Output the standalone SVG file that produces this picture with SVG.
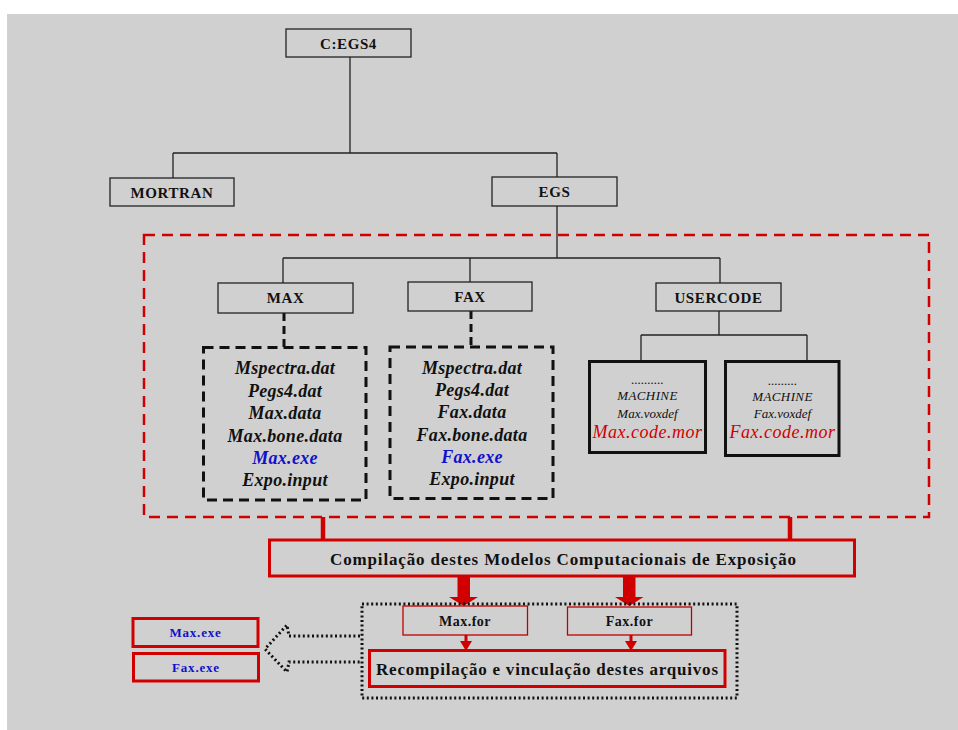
<svg xmlns="http://www.w3.org/2000/svg" width="958" height="730" viewBox="0 0 958 730">
<style>
.bg{fill:#d0d0d0}
.box{fill:#d0d0d0;stroke:#222;stroke-width:1.3}
.lbl{font-family:"Liberation Serif",serif;font-weight:bold;font-size:15px;fill:#111;text-anchor:middle;letter-spacing:0.6px}
.file{font-family:"Liberation Serif",serif;font-weight:bold;font-style:italic;font-size:18px;fill:#111;text-anchor:middle;letter-spacing:0.3px}
.blue{fill:#1010cc}
.thin{fill:none;stroke:#222;stroke-width:1.3}
.dashbox{fill:none;stroke:#111;stroke-width:3;stroke-dasharray:10 6}
.ubox{fill:none;stroke:#111;stroke-width:3}
.small{font-family:"Liberation Serif",serif;font-style:italic;font-size:13px;fill:#111;text-anchor:middle}
.mor{font-family:"Liberation Serif",serif;font-style:italic;font-size:18px;fill:#d00000;text-anchor:middle;letter-spacing:0.5px}
.rbox{fill:none;stroke:#d00000;stroke-width:3}
.rthin{fill:none;stroke:#c00000;stroke-width:1.3}
.red{fill:#d00000}
.big{font-family:"Liberation Serif",serif;font-weight:bold;font-size:17px;fill:#111;text-anchor:middle}
.exe{font-family:"Liberation Serif",serif;font-weight:bold;font-size:13px;fill:#1010cc;text-anchor:middle;letter-spacing:0.8px}
.for{font-family:"Liberation Serif",serif;font-weight:bold;font-size:14px;fill:#111;text-anchor:middle;letter-spacing:0.5px}
</style>
<rect x="7" y="14" width="951" height="716" class="bg"/>

<g id="connectors">
  <path class="thin" d="M350 57V153M173 153H557M173 153V178M557 153V177M557 206V258M283 258H720M283 258V283M470 258V282M720 258V283M719 311V335M641 335H807M641 335V361M807 335V361"/>
  <path fill="none" stroke="#111" stroke-width="3" stroke-dasharray="8 5" d="M284 313V347"/>
  <path fill="none" stroke="#111" stroke-width="3" stroke-dasharray="8 5" d="M471 311V347"/>
  <rect x="144" y="235" width="785" height="282" fill="none" stroke="#d00000" stroke-width="2.5" stroke-dasharray="11 7"/>
  <path fill="none" stroke="#d00000" stroke-width="4.5" d="M323 517V540M790 517V540"/>
  <path class="red" d="M457.5 575H470V597H478L463.7 606L449 597H457.5Z"/>
  <path class="red" d="M623 575H635.5V597H643.5L629.3 606L615 597H623Z"/>
  <path class="red" d="M464.5 635H467.5V641H472L466 651L460 641H464.5Z"/>
  <path class="red" d="M629.5 635H632.5V641H637L631 651L625 641H629.5Z"/>
  <path fill="none" stroke="#111" stroke-width="3" stroke-dasharray="2 2.6" d="M360 636H289L287 625L265 649L287 672L289 662H360"/>
</g>

<g id="n-cegs4"><rect class="box" x="286" y="29" width="125" height="28"/><text class="lbl" x="348.5" y="48.5">C:EGS4</text></g>
<g id="n-mortran"><rect class="box" x="110" y="178" width="124" height="28"/><text class="lbl" x="172" y="197.5">MORTRAN</text></g>
<g id="n-egs"><rect class="box" x="492" y="177" width="125" height="29"/><text class="lbl" x="554.5" y="197">EGS</text></g>
<g id="n-max"><rect class="box" x="218" y="283" width="135" height="30"/><text class="lbl" x="285.5" y="303">MAX</text></g>
<g id="n-fax"><rect class="box" x="408" y="282" width="124" height="29"/><text class="lbl" x="470" y="302">FAX</text></g>
<g id="n-usercode"><rect class="box" x="656" y="283" width="125" height="28"/><text class="lbl" x="718.5" y="302.5">USERCODE</text></g>

<g id="n-maxfiles">
  <rect class="dashbox" x="203.5" y="347.5" width="162.5" height="152.5"/>
  <text class="file" x="285" y="374">Mspectra.dat</text>
  <text class="file" x="285" y="396.5">Pegs4.dat</text>
  <text class="file" x="285" y="419">Max.data</text>
  <text class="file" x="285" y="441.5">Max.bone.data</text>
  <text class="file blue" x="285" y="464">Max.exe</text>
  <text class="file" x="285" y="486">Expo.input</text>
</g>
<g id="n-faxfiles">
  <rect class="dashbox" x="390" y="347" width="163" height="151.5"/>
  <text class="file" x="472" y="374">Mspectra.dat</text>
  <text class="file" x="472" y="396">Pegs4.dat</text>
  <text class="file" x="472" y="418">Fax.data</text>
  <text class="file" x="472" y="440.5">Fax.bone.data</text>
  <text class="file blue" x="472" y="463">Fax.exe</text>
  <text class="file" x="472" y="485">Expo.input</text>
</g>

<g id="n-maxcode">
  <rect class="ubox" x="589.5" y="361.5" width="116" height="91"/>
  <text class="small" x="647.5" y="384" font-size="10">..........</text>
  <text class="small" x="647.5" y="400" letter-spacing="0.4">MACHINE</text>
  <text class="small" x="647.5" y="417.5">Max.voxdef</text>
  <text class="mor" x="647.5" y="437.5">Max.code.mor</text>
</g>
<g id="n-faxcode">
  <rect class="ubox" x="725.5" y="361.5" width="113.5" height="94"/>
  <text class="small" x="782.5" y="385" font-size="10">.........</text>
  <text class="small" x="782.5" y="400.5" letter-spacing="0.4">MACHINE</text>
  <text class="small" x="782.5" y="418">Fax.voxdef</text>
  <text class="mor" x="782.5" y="438">Fax.code.mor</text>
</g>

<g id="n-compile">
  <rect class="rbox" x="269.5" y="540" width="585" height="36"/>
  <text class="big" x="563" y="564.5" textLength="466">Compilação destes Modelos Computacionais de Exposição</text>
</g>

<g id="n-recompgroup">
  <rect x="362" y="604" width="375" height="94" fill="none" stroke="#111" stroke-width="3" stroke-dasharray="2 2.6"/>
</g>
<g id="n-maxfor"><rect class="rthin" x="403" y="606" width="124.5" height="29"/><text class="for" x="465" y="625.5">Max.for</text></g>
<g id="n-faxfor"><rect class="rthin" x="567.5" y="607" width="124" height="28"/><text class="for" x="629.5" y="626">Fax.for</text></g>
<g id="n-recomp">
  <rect class="rbox" x="369.5" y="650.5" width="355.5" height="36"/>
  <text class="big" x="547" y="674.5" font-size="18" textLength="342">Recompilação e vinculação destes arquivos</text>
</g>
<g id="n-maxexe"><rect class="rbox" x="133" y="618.5" width="125" height="28"/><text class="exe" x="195.5" y="637">Max.exe</text></g>
<g id="n-faxexe"><rect class="rbox" x="133.5" y="653.5" width="125" height="27.5"/><text class="exe" x="196" y="672">Fax.exe</text></g>
</svg>
